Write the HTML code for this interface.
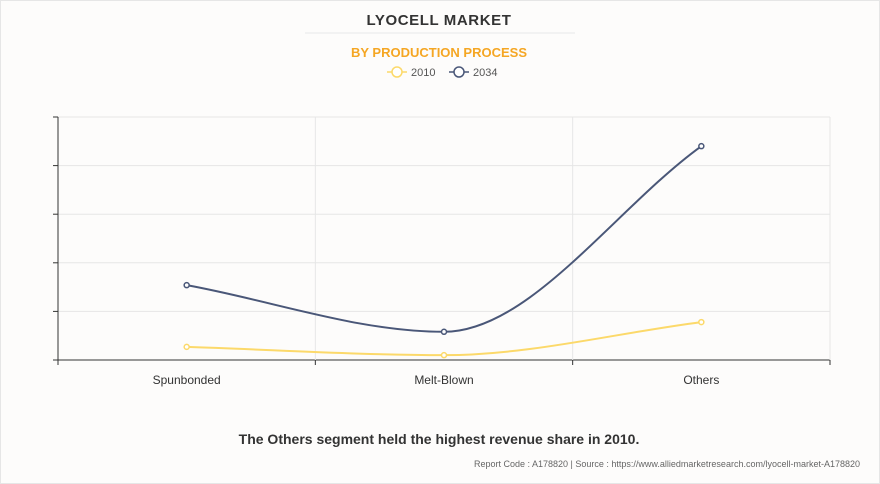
<!DOCTYPE html>
<html><head><meta charset="utf-8"><style>
body{margin:0;background:#fff;}
#wrap{position:relative;width:878px;height:482px;border:1px solid #e6e6e6;background:#fdfcfb;overflow:hidden;font-family:"Liberation Sans",sans-serif;}
</style></head><body>
<div id="wrap">
<svg id="chart" width="878" height="482">
<text x="438" y="24" text-anchor="middle" font-size="15" font-weight="bold" fill="#333" letter-spacing="0.6">LYOCELL MARKET</text>
<line x1="304" y1="32" x2="574" y2="32" stroke="#e8e8e8"/>
<text x="438" y="56" text-anchor="middle" font-size="13" font-weight="bold" fill="#f5a623">BY PRODUCTION PROCESS</text>
<g>
<line x1="386" y1="71" x2="406" y2="71" stroke="#fcd96a" stroke-width="1.5"/><circle cx="396" cy="71" r="5" fill="#fff" stroke="#fcd96a" stroke-width="1.5"/>
<text x="410" y="75" font-size="11" fill="#555">2010</text></g>
<g>
<line x1="448" y1="71" x2="468" y2="71" stroke="#4a5778" stroke-width="1.5"/><circle cx="458" cy="71" r="5" fill="#fff" stroke="#4a5778" stroke-width="1.5"/>
<text x="472" y="75" font-size="11" fill="#555">2034</text></g>
<g id="grid"></g><g id="axes"></g><g id="series"></g>
<text x="438" y="443" text-anchor="middle" font-size="14" font-weight="bold" fill="#333">The Others segment held the highest revenue share in 2010.</text>
<text x="859" y="466" text-anchor="end" font-size="9" fill="#666">Report Code : A178820  |  Source : https://www.alliedmarketresearch.com/lyocell-market-A178820</text>
</svg>
</div>
<script>
const categories=["Spunbonded","Melt-Blown","Others"];
const values2010=[0.27,0.1,0.78];
const values2034=[1.54,0.58,4.4];
const yTicks=[0,1,2,3,4,5];
const NS="http://www.w3.org/2000/svg";
const X0=57,X1=829,Y0=359,Y1=116,YMAX=5;
const bw=(X1-X0)/categories.length;
const xs=i=>X0+bw*(i+0.5);
const ys=v=>Y0-(v/YMAX)*(Y0-Y1);
function mk(t,a,p){const e=document.createElementNS(NS,t);for(const k in a)e.setAttribute(k,a[k]);p.appendChild(e);return e;}
const grid=document.getElementById('grid'),axes=document.getElementById('axes'),ser=document.getElementById('series');
yTicks.forEach(t=>{const l=mk('line',{x1:X0,x2:X1,y1:ys(t),y2:ys(t),stroke:t===0?'#333':'#e6e6e6'},grid);


const tk=mk('line',{x1:X0-5,x2:X0,y1:ys(t),y2:ys(t),stroke:'#333'},axes);

});
for(let i=0;i<=categories.length;i++){const x=X0+bw*i;
if(i>0){const g=mk('line',{x1:x,x2:x,y1:Y1,y2:Y0,stroke:'#e6e6e6'},grid);

}
const tk=mk('line',{x1:x,x2:x,y1:Y0,y2:Y0+5,stroke:'#333'},axes);

}
const ya=mk('line',{x1:X0,x2:X0,y1:Y1,y2:Y0,stroke:'#333'},axes);


categories.forEach((c,i)=>{const t=mk('text',{x:xs(i),y:Y0+24,'text-anchor':'middle','font-size':12,fill:'#333'},axes);t.textContent=c;

});
function monotone(pts){const n=pts.length,d=[],m=[];
for(let i=0;i<n-1;i++)d.push((pts[i+1][1]-pts[i][1])/(pts[i+1][0]-pts[i][0]));
for(let i=0;i<n;i++){if(i===0)m.push(d[0]);else if(i===n-1)m.push(d[n-2]);else m.push(d[i-1]*d[i]<=0?0:(d[i-1]+d[i])/2);}
let s=`M${pts[0][0]},${pts[0][1]}`;
for(let i=0;i<n-1;i++){const h=(pts[i+1][0]-pts[i][0])/3;
s+=` C${pts[i][0]+h},${pts[i][1]+m[i]*h} ${pts[i+1][0]-h},${pts[i+1][1]-m[i+1]*h} ${pts[i+1][0]},${pts[i+1][1]}`;}return s;}
function draw(vals,color,name){const pts=vals.map((v,i)=>[xs(i),ys(v)]);
const p=mk('path',{d:monotone(pts),fill:'none',stroke:color,'stroke-width':2},ser);


pts.forEach(q=>{const c=mk('circle',{cx:q[0],cy:q[1],r:2.5,fill:'#fff',stroke:color,'stroke-width':1.5},ser);

});}
draw(values2010,'#fcd96a','2010');
draw(values2034,'#4a5778','2034');
</script>
</body></html>
